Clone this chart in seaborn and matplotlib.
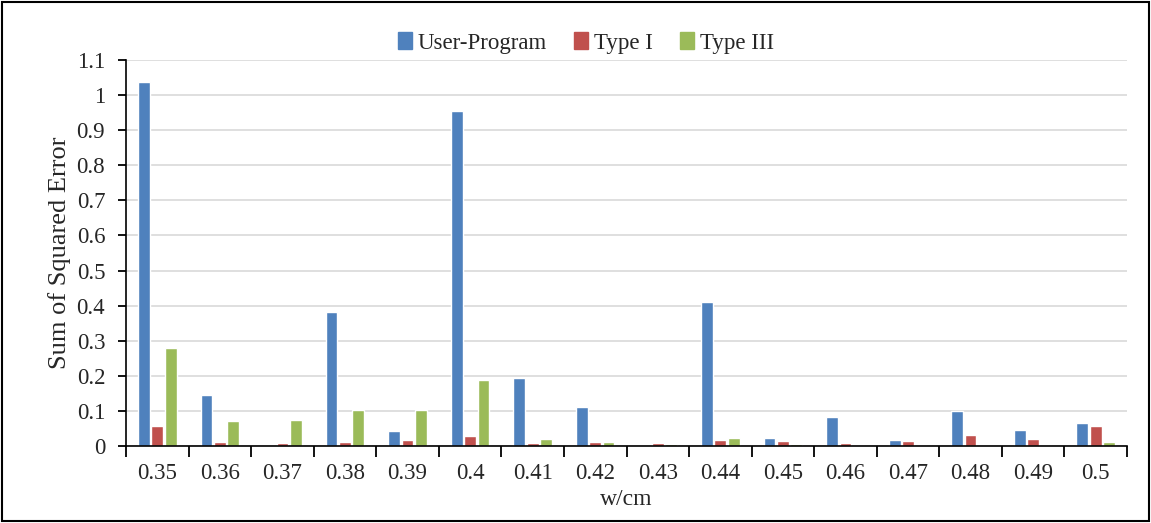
import numpy as np
import pandas as pd
import matplotlib
matplotlib.use("Agg")
import matplotlib.pyplot as plt
import seaborn as sns
from matplotlib.patches import Rectangle

widths = ["0.35", "0.36", "0.37", "0.38", "0.39", "0.4", "0.41", "0.42",
          "0.43", "0.44", "0.45", "0.46", "0.47", "0.48", "0.49", "0.5"]
user_program = [1.038, 0.145, 0.0, 0.382, 0.043, 0.954, 0.194, 0.110,
                0.0, 0.411, 0.023, 0.082, 0.017, 0.099, 0.045, 0.066]
type_i = [0.057, 0.011, 0.008, 0.011, 0.016, 0.028, 0.009, 0.011,
          0.008, 0.018, 0.013, 0.008, 0.014, 0.030, 0.019, 0.058]
type_iii = [0.279, 0.071, 0.074, 0.103, 0.102, 0.188, 0.020, 0.011,
            0.006, 0.023, 0.006, 0.0, 0.0, 0.0, 0.0, 0.012]
series = ["User-Program", "Type I", "Type III"]
colors = ["#4F81BD", "#C0504D", "#9BBB59"]


def build_frame():
    rows = []
    for name, vals in zip(series, [user_program, type_i, type_iii]):
        for w, v in zip(widths, vals):
            rows.append({"w": w, "sse": v, "series": name})
    return pd.DataFrame(rows)


def plot_errors(df):
    sns.set_style("white")
    plt.rcParams["font.family"] = ["Liberation Serif", "DejaVu Serif"]

    fig = plt.figure(figsize=(11.51, 5.23), dpi=100)
    ax = fig.add_axes([126 / 1151, 1 - 446 / 523, (1127 - 126) / 1151, (446 - 60) / 523])

    sns.barplot(data=df, x="w", y="sse", hue="series", hue_order=series,
                palette=colors, width=0.64, gap=0.12, saturation=1,
                order=widths, ax=ax, legend=True)

    ax.set_ylim(0, 1.1)
    ax.set_xlim(-0.5, len(widths) - 0.5)
    yt = np.round(np.arange(0, 1.11, 0.1), 1)
    ax.set_yticks(yt)
    ax.set_yticklabels([f"{v:g}" for v in yt])
    ax.yaxis.grid(True, color="#d9d9d9", linewidth=1.2)
    ax.set_axisbelow(True)

    for s in ["top", "right"]:
        ax.spines[s].set_visible(False)
    for s in ["left", "bottom"]:
        ax.spines[s].set_color("black")
        ax.spines[s].set_linewidth(1.2)

    ax.set_xticks(np.arange(-0.5, len(widths), 1.0), minor=True)
    ax.tick_params(axis="x", which="major", length=0, labelsize=16.5, pad=12)
    ax.tick_params(axis="x", which="minor", length=8, width=1.3, color="black",
                   direction="out", bottom=True)
    ax.tick_params(axis="y", length=6, width=1.3, color="black",
                   direction="out", left=True, labelsize=16.5, pad=9)

    ax.set_xlabel("w/cm", fontsize=17, labelpad=4)
    ax.set_ylabel("Sum of Squared Error", fontsize=19, labelpad=4)

    ax.legend_.remove()
    handles = [Rectangle((0, 0), 1, 1, color=c) for c in colors]
    fig.legend(handles, series, loc="center", bbox_to_anchor=(0.509, 0.918),
               ncol=3, frameon=False, fontsize=16.5, handlelength=0.6,
               handleheight=0.75, handletextpad=0.25, columnspacing=1.2)

    fig.patches.append(Rectangle((0.002, 0.003), 0.996, 0.994, fill=False,
                                 edgecolor="black", linewidth=1.5,
                                 transform=fig.transFigure, figure=fig))

    fig.savefig("out.png", dpi=100)


if __name__ == "__main__":
    df = build_frame()
    plot_errors(df)
